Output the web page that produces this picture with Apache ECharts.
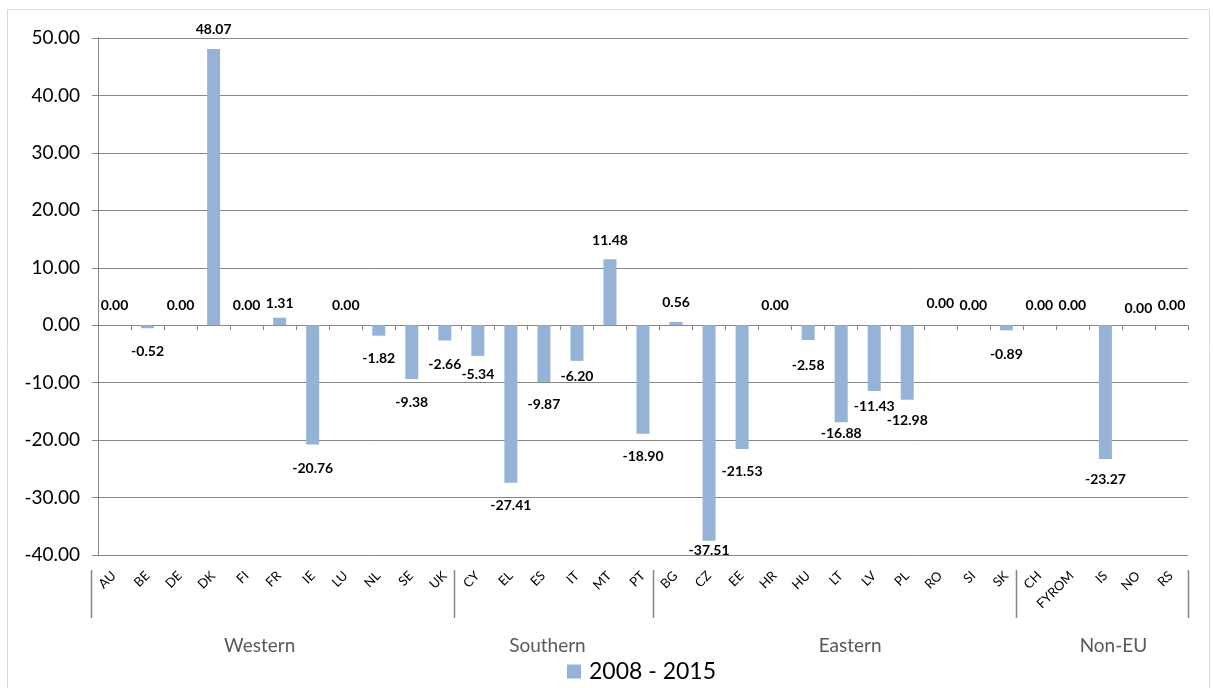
<!DOCTYPE html>
<html>
<head>
<meta charset="utf-8">
<script src="https://cdn.jsdelivr.net/npm/echarts@6/dist/echarts.min.js"></script>
<style>
  html, body { margin: 0; padding: 0; background: #fff; }
  #wrap { position: relative; width: 1213px; height: 688px; overflow: hidden; }
  #chart { width: 1213px; height: 688px; }
  .country {
    position: absolute;
    font-family: Lato, sans-serif;
    font-size: 13px;
    line-height: 14px;
    color: #000;
    white-space: nowrap;
    transform-origin: 100% 50%;
    transform: rotate(-45deg);
  }
</style>
</head>
<body>
<div id="wrap"><div id="chart"></div></div>
<script>
// Country codes, in group order
const countries = ['AU','BE','DE','DK','FI','FR','IE','LU','NL','SE','UK',
                   'CY','EL','ES','IT','MT','PT',
                   'BG','CZ','EE','HR','HU','LT','LV','PL','RO','SI','SK',
                   'CH','FYROM','IS','NO','RS'];
// Change 2008 - 2015
const change = [0.00,-0.52,0.00,48.07,0.00,1.31,-20.76,0.00,-1.82,-9.38,-2.66,
                -5.34,-27.41,-9.87,-6.20,11.48,-18.90,
                0.56,-37.51,-21.53,0.00,-2.58,-16.88,-11.43,-12.98,0.00,0.00,-0.89,
                0.00,0.00,-23.27,0.00,0.00];
const seriesName = '2008 - 2015';
// Regional groups along the category axis
const groupNames = ['Western','Southern','Eastern','Non-EU'];
const groupSizes = [11, 6, 11, 5];
// Value axis ticks
const yMin = -40, yMax = 50, yStep = 10;

// Vertical nudges for value labels, to keep them clear of neighbours
const labelNudge = [0,0,0,0,0,6,1,0,0,0,1,
                    -4,0,0,-7,1,0,
                    0,-13,0,0,2,-12,-7,-2,-2,0,1,
                    0,0,-2,3,0];
// Horizontal nudges for the group captions
const groupNudge = [-20, -13, 9, 8];

const FONT = 'Lato';
const GRID = { left: 98, right: 25, top: 38, bottom: 133 };
const WIDTH = 1213;

const chart = echarts.init(document.getElementById('chart'));

const barData = change.map((v, i) => ({
  value: v,
  label: {
    position: v >= 0 ? 'top' : 'bottom',
    distance: v >= 0 ? 13 : 16,
    offset: [0, labelNudge[i]]
  }
}));

// Group separators and captions below the country labels
function bottomGraphics() {
  const c0 = chart.convertToPixel({ xAxisIndex: 0 }, 0);
  const c1 = chart.convertToPixel({ xAxisIndex: 0 }, 1);
  const band = c1 - c0;
  const bottomY = chart.getHeight() - GRID.bottom;
  const edge = i => c0 - band / 2 + band * i;
  const elements = [];

  const sepX = [];
  let start = 0;
  groupSizes.forEach((n, g) => {
    sepX.push(edge(start) - 7);
    const mid = (edge(start) + edge(start + n)) / 2;
    elements.push({
      type: 'text',
      x: mid + groupNudge[g], y: bottomY + 91,
      style: {
        text: groupNames[g], fontFamily: FONT, fontSize: 19, fill: '#595959',
        align: 'center', verticalAlign: 'middle'
      }
    });
    start += n;
  });
  sepX.push(edge(countries.length));
  sepX.forEach(x => {
    elements.push({
      type: 'line',
      shape: { x1: Math.round(x) + 0.5, y1: bottomY + 15, x2: Math.round(x) + 0.5, y2: bottomY + 63 },
      style: { stroke: '#868686', lineWidth: 1.5 }
    });
  });

  // outer frame of the chart
  elements.push({
    type: 'rect',
    shape: { x: 7.5, y: 9.5, width: 1202, height: 700 },
    style: { fill: null, stroke: '#d9d9d9', lineWidth: 1 },
    silent: true
  });
  return elements;
}

// Slanted country names, anchored at their category centres
function placeCountryNames() {
  const wrap = document.getElementById('wrap');
  const bottomY = chart.getHeight() - GRID.bottom;
  countries.forEach((name, i) => {
    const cx = chart.convertToPixel({ xAxisIndex: 0 }, i) - 1;
    const el = document.createElement('div');
    el.className = 'country';
    el.textContent = name;
    el.style.right = (WIDTH - cx) + 'px';
    el.style.top = (bottomY + 17.5 - 7) + 'px';
    wrap.appendChild(el);
  });
}

chart.setOption({
  backgroundColor: '#ffffff',
  animation: false,
  grid: GRID,
  legend: {
    left: 562, top: 655,
    itemWidth: 14, itemHeight: 14,
    icon: 'rect',
    textStyle: { fontFamily: FONT, fontSize: 23, color: '#000', padding: [0, 0, 0, 3] },
    data: [seriesName]
  },
  xAxis: {
    // axis line and ticks running along zero
    type: 'category',
    data: countries,
    position: 'bottom',
    axisLine: { show: true, onZero: true, lineStyle: { color: '#868686', width: 1 } },
    axisTick: { show: true, length: 5, interval: 0, lineStyle: { color: '#868686' } },
    axisLabel: { show: false }
  },
  yAxis: {
    type: 'value',
    min: yMin, max: yMax, interval: yStep,
    axisLine: { show: true, lineStyle: { color: '#868686', width: 1 } },
    axisTick: { show: true, length: 6, lineStyle: { color: '#868686' } },
    axisLabel: {
      formatter: v => v.toFixed(2),
      fontFamily: FONT, fontSize: 19, color: '#000', margin: 18
    },
    splitLine: { show: true, lineStyle: { color: '#868686', width: 1 } }
  },
  series: [{
    name: seriesName,
    type: 'bar',
    barWidth: 13,
    itemStyle: { color: '#95b3d7' },
    label: {
      show: true,
      formatter: p => p.value.toFixed(2),
      fontFamily: FONT, fontSize: 14, fontWeight: 'bold', color: '#000'
    },
    data: barData
  }]
});

chart.setOption({ graphic: bottomGraphics() });
placeCountryNames();
</script>
</body>
</html>
